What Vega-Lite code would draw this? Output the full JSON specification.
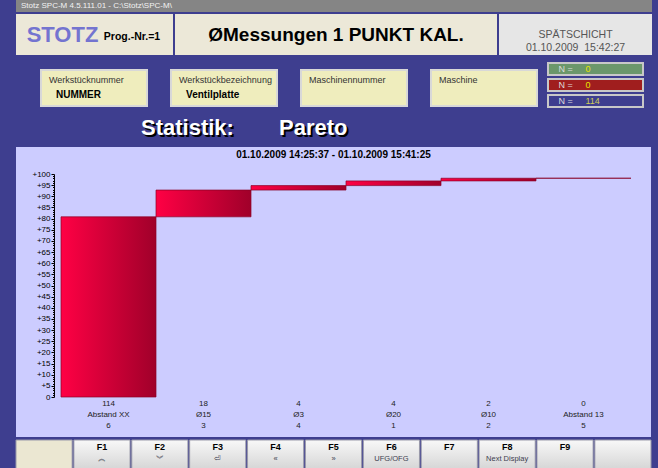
{
  "$schema": "https://vega.github.io/schema/vega-lite/v6.json",
  "background": "#3e3e8f",
  "padding": {"left": 15, "top": 0, "right": 7, "bottom": 0},
  "config": {"view": {"stroke": null}, "font": "Liberation Sans", "concat": {"spacing": 0}},
  "data": {"values": [{}]},
  "datasets": {
    "pareto": [
      {"merkmal": "Abstand XX", "anzahl": 114, "nr": 6, "von": 0, "bis": 80.8},
      {"merkmal": "Ø15", "anzahl": 18, "nr": 3, "von": 80.8, "bis": 92.8},
      {"merkmal": "Ø3", "anzahl": 4, "nr": 4, "von": 92.8, "bis": 94.8},
      {"merkmal": "Ø20", "anzahl": 4, "nr": 1, "von": 94.8, "bis": 96.9},
      {"merkmal": "Ø10", "anzahl": 2, "nr": 2, "von": 96.9, "bis": 98.1},
      {"merkmal": "Abstand 13", "anzahl": 0, "nr": 5, "von": 98.1, "bis": 98.1}
    ],
    "felder": [
      {"feld": "Werkstücknummer", "wert": "NUMMER"},
      {"feld": "Werkstückbezeichnung", "wert": "Ventilplatte"},
      {"feld": "Maschinennummer", "wert": ""},
      {"feld": "Maschine", "wert": ""}
    ],
    "tasten": [
      {"taste": "leer1", "bezeichnung": "", "symbol": ""},
      {"taste": "F1", "bezeichnung": "F1", "symbol": "︽"},
      {"taste": "F2", "bezeichnung": "F2", "symbol": "︾"},
      {"taste": "F3", "bezeichnung": "F3", "symbol": "⏎"},
      {"taste": "F4", "bezeichnung": "F4", "symbol": "«"},
      {"taste": "F5", "bezeichnung": "F5", "symbol": "»"},
      {"taste": "F6", "bezeichnung": "F6", "symbol": "UFG/OFG"},
      {"taste": "F7", "bezeichnung": "F7", "symbol": ""},
      {"taste": "F8", "bezeichnung": "F8", "symbol": "Next Display"},
      {"taste": "F9", "bezeichnung": "F9", "symbol": ""},
      {"taste": "leer2", "bezeichnung": "", "symbol": ""}
    ]
  },
  "spacing": 2,
  "vconcat": [
    {
      "width": 636, "height": 12,
      "view": {"fill": "#858585"},
      "mark": {"type": "text", "text": "Stotz SPC-M 4.5.111.01 - C:\\Stotz\\SPC-M\\", "align": "left", "dx": -313, "fontSize": 8, "color": "#f2f2f2"}
    },
    {
      "spacing": 2,
      "hconcat": [
        {
          "spacing": 0,
          "hconcat": [
            {"width": 85, "height": 41, "view": {"fill": "#ece8d8"},
             "mark": {"type": "text", "text": "STOTZ", "fontSize": 22, "fontWeight": "bold", "color": "#7474d0", "dx": 4}},
            {"width": 72, "height": 41, "view": {"fill": "#ece8d8"},
             "mark": {"type": "text", "text": "Prog.-Nr.=1", "fontSize": 10.5, "fontWeight": "bold", "color": "#000000", "dx": -5, "dy": 2}}
          ]
        },
        {"width": 322, "height": 41, "view": {"fill": "#ece8d8"},
         "mark": {"type": "text", "text": "ØMessungen 1 PUNKT KAL.", "fontSize": 19, "fontWeight": "bold", "color": "#000000"}},
        {"width": 153, "height": 41, "view": {"fill": "#e6e6e6"},
         "mark": {"type": "text", "text": "SPÄTSCHICHT\n01.10.2009\u00a0\u00a015:42:27", "lineBreak": "\n", "lineHeight": 13, "fontSize": 10.5, "color": "#555555"}}
      ]
    },
    {
      "spacing": 9,
      "hconcat": [
        {
          "spacing": 11,
          "vconcat": [
            {"width": 1, "height": 1, "mark": {"type": "rect", "opacity": 0}},
            {
              "data": {"name": "felder"},
              "width": 521, "height": 36,
              "encoding": {"x": {"field": "feld", "type": "nominal", "sort": null, "axis": null,
                "scale": {"type": "band", "paddingInner": 0.1846, "paddingOuter": 0.0962, "align": 1}}},
              "layer": [
                {"mark": {"type": "rect", "fill": "#efedbd", "stroke": "#d8d8d8", "strokeWidth": 2}},
                {"mark": {"type": "text", "align": "left", "dx": 8, "dy": -8, "fontSize": 9, "color": "#333333"},
                 "encoding": {"x": {"field": "feld", "type": "nominal", "sort": null, "bandPosition": 0}, "text": {"field": "feld"}}},
                {"mark": {"type": "text", "align": "left", "dx": 15, "dy": 7, "fontSize": 10, "fontWeight": "bold", "color": "#000000"},
                 "encoding": {"x": {"field": "feld", "type": "nominal", "sort": null, "bandPosition": 0}, "text": {"field": "wert"}}}
              ]
            }
          ]
        },
        {
          "spacing": 2,
          "vconcat": [
            {"width": 1, "height": 3, "mark": {"type": "rect", "opacity": 0}},
            {"width": 95, "height": 12, "view": {"fill": "#6b976b", "stroke": "#c8c8c8", "strokeWidth": 2},
             "layer": [
               {"mark": {"type": "text", "text": "N =", "align": "left", "dx": -37, "fontSize": 9, "color": "#dddddd"}},
               {"mark": {"type": "text", "text": "0", "align": "left", "dx": -10, "fontSize": 9, "color": "#e6e600"}}
             ]},
            {"width": 95, "height": 12, "view": {"fill": "#a01e1e", "stroke": "#c8c8c8", "strokeWidth": 2},
             "layer": [
               {"mark": {"type": "text", "text": "N =", "align": "left", "dx": -37, "fontSize": 9, "color": "#dddddd"}},
               {"mark": {"type": "text", "text": "0", "align": "left", "dx": -10, "fontSize": 9, "color": "#e6e600"}}
             ]},
            {"width": 95, "height": 12, "view": {"fill": "#3e3e8f", "stroke": "#c8c8c8", "strokeWidth": 2},
             "layer": [
               {"mark": {"type": "text", "text": "N =", "align": "left", "dx": -37, "fontSize": 9, "color": "#dddddd"}},
               {"mark": {"type": "text", "text": "114", "align": "left", "dx": -10, "fontSize": 9, "color": "#cccc55"}}
             ]}
          ]
        }
      ]
    },
    {
      "width": 635, "height": 35,
      "layer": [
        {"mark": {"type": "text", "text": "Statistik:", "align": "left", "dx": -190.5, "dy": 2, "fontSize": 22, "fontWeight": "bold", "color": "#000000"}},
        {"mark": {"type": "text", "text": "Pareto", "align": "left", "dx": -52.5, "dy": 2, "fontSize": 22, "fontWeight": "bold", "color": "#000000"}},
        {"mark": {"type": "text", "text": "Statistik:", "align": "left", "dx": -192.5, "fontSize": 22, "fontWeight": "bold", "color": "#ffffff"}},
        {"mark": {"type": "text", "text": "Pareto", "align": "left", "dx": -54.5, "fontSize": 22, "fontWeight": "bold", "color": "#ffffff"}}
      ]
    },
    {
      "data": {"name": "pareto"},
      "transform": [{"calculate": "datum.anzahl + '\\n' + datum.merkmal + '\\n' + datum.nr", "as": "beschriftung"}],
      "width": 635, "height": 290,
      "view": {"fill": "#ccccff"},
      "title": {"text": "01.10.2009 14:25:37 - 01.10.2009 15:41:25", "fontSize": 10, "fontWeight": "bold", "color": "#000000", "offset": -13, "anchor": "middle"},
      "mark": {"type": "bar", "stroke": "#8a0026", "strokeWidth": 0.7,
        "fill": {"gradient": "linear", "x1": 0, "y1": 0, "x2": 1, "y2": 0,
          "stops": [{"offset": 0, "color": "#ff0044"}, {"offset": 1, "color": "#a0002a"}]}},
      "encoding": {
        "x": {"field": "beschriftung", "type": "nominal", "sort": null,
          "scale": {"type": "band", "range": [45, 615], "paddingInner": 0, "paddingOuter": 0},
          "axis": {"orient": "bottom", "offset": -40, "title": null, "domain": false, "ticks": false,
            "labelExpr": "split(datum.label, '\\n')", "labelFontSize": 8, "labelLineHeight": 11,
            "labelColor": "#222222", "labelPadding": 2, "labelAngle": 0, "labelBaseline": "top", "labelOverlap": false}},
        "y": {"field": "von", "type": "quantitative",
          "scale": {"domain": [0, 100], "range": [250, 27], "nice": false},
          "axis": {"orient": "left", "offset": -38, "title": null, "grid": false,
            "values": [0,1,2,3,4,5,6,7,8,9,10,11,12,13,14,15,16,17,18,19,20,21,22,23,24,25,26,27,28,29,30,31,32,33,34,35,36,37,38,39,40,41,42,43,44,45,46,47,48,49,50,51,52,53,54,55,56,57,58,59,60,61,62,63,64,65,66,67,68,69,70,71,72,73,74,75,76,77,78,79,80,81,82,83,84,85,86,87,88,89,90,91,92,93,94,95,96,97,98,99,100],
            "labelExpr": "datum.value % 5 === 0 ? (datum.value === 0 ? '0' : '+' + datum.value) : ''",
            "labelFontSize": 8, "labelColor": "#000000", "labelPadding": 1, "labelOverlap": false, "labelFlush": false,
            "domainColor": "#000000", "tickColor": "#000000",
            "tickSize": {"condition": {"test": "datum.value % 5 === 0", "value": 3}, "value": 1.5}}},
        "y2": {"field": "bis"}
      }
    },
    {
      "data": {"name": "tasten"},
      "width": 635, "height": 29,
      "encoding": {"x": {"field": "taste", "type": "nominal", "sort": null, "axis": null,
        "scale": {"type": "band", "paddingInner": 0.03, "paddingOuter": 0}}},
      "layer": [
        {"mark": {"type": "rect", "stroke": "#9a9aaa", "strokeWidth": 1},
         "encoding": {"fill": {"condition": {"test": "datum.taste === 'leer1'", "value": "#ebe7d2"},
           "value": {"gradient": "linear", "x1": 0, "y1": 0, "x2": 0, "y2": 1,
             "stops": [{"offset": 0, "color": "#f8f8f8"}, {"offset": 1, "color": "#d6d6d6"}]}}}},
        {"mark": {"type": "text", "fontSize": 9, "fontWeight": "bold", "dy": -7.5, "color": "#000000"},
         "encoding": {"text": {"field": "bezeichnung"}}},
        {"mark": {"type": "text", "fontSize": 7.5, "dy": 4.5, "color": "#404050"},
         "encoding": {"text": {"field": "symbol"}}}
      ]
    }
  ]
}
